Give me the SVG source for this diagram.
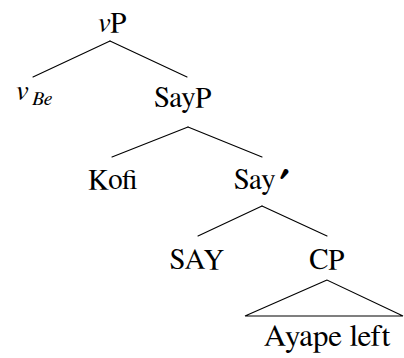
<svg xmlns="http://www.w3.org/2000/svg" width="404" height="358" viewBox="0 0 404 358">
<style>
.edge{stroke:#000;stroke-width:1.1;fill:none;stroke-linecap:round}
</style>
<rect width="404" height="358" fill="#fff"/>
<g id="connectors" class="edge">
<line x1="110" y1="41" x2="33" y2="77"/>
<line x1="110" y1="41" x2="187" y2="77"/>
<line x1="188" y1="127" x2="112" y2="157"/>
<line x1="188" y1="127" x2="262" y2="157"/>
<line x1="262" y1="206" x2="198" y2="236"/>
<line x1="262" y1="206" x2="327" y2="236"/>
<polygon points="327,280 245,316 403,316"/>
</g>
<g id="vP"><text x="112" y="32" text-anchor="middle" font-size="29" font-family="FreeSerif, Tinos, Liberation Serif, serif"><tspan font-style="italic">v</tspan>P</text></g>
<g id="vBe"><text x="15" y="100" font-size="29" font-family="FreeSerif, Tinos, Liberation Serif, serif" font-style="italic">v</text><text x="32" y="105" font-size="20" font-family="FreeSerif, Tinos, Liberation Serif, serif" font-style="italic">Be</text></g>
<g id="SayP"><text x="183" y="107" text-anchor="middle" font-size="29" font-family="FreeSerif, Tinos, Liberation Serif, serif">SayP</text></g>
<g id="Kofi"><text x="113" y="189" text-anchor="middle" font-size="29" font-family="FreeSerif, Tinos, Liberation Serif, serif">Kofi</text></g>
<g id="SayBar"><text x="234" y="189" font-size="29" font-family="FreeSerif, Tinos, Liberation Serif, serif">Say</text><text x="280" y="195" font-size="34" font-weight="bold" font-family="FreeSerif, Tinos, Liberation Serif, serif">′</text></g>
<g id="SAY"><text x="197" y="269" text-anchor="middle" font-size="29" font-family="FreeSerif, Tinos, Liberation Serif, serif">SAY</text></g>
<g id="CP"><text x="327" y="269" text-anchor="middle" font-size="29" font-family="FreeSerif, Tinos, Liberation Serif, serif">CP</text></g>
<g id="AyapeLeft"><text x="327" y="346" text-anchor="middle" font-size="31" font-family="FreeSerif, Tinos, Liberation Serif, serif">Ayape left</text></g>
</svg>
